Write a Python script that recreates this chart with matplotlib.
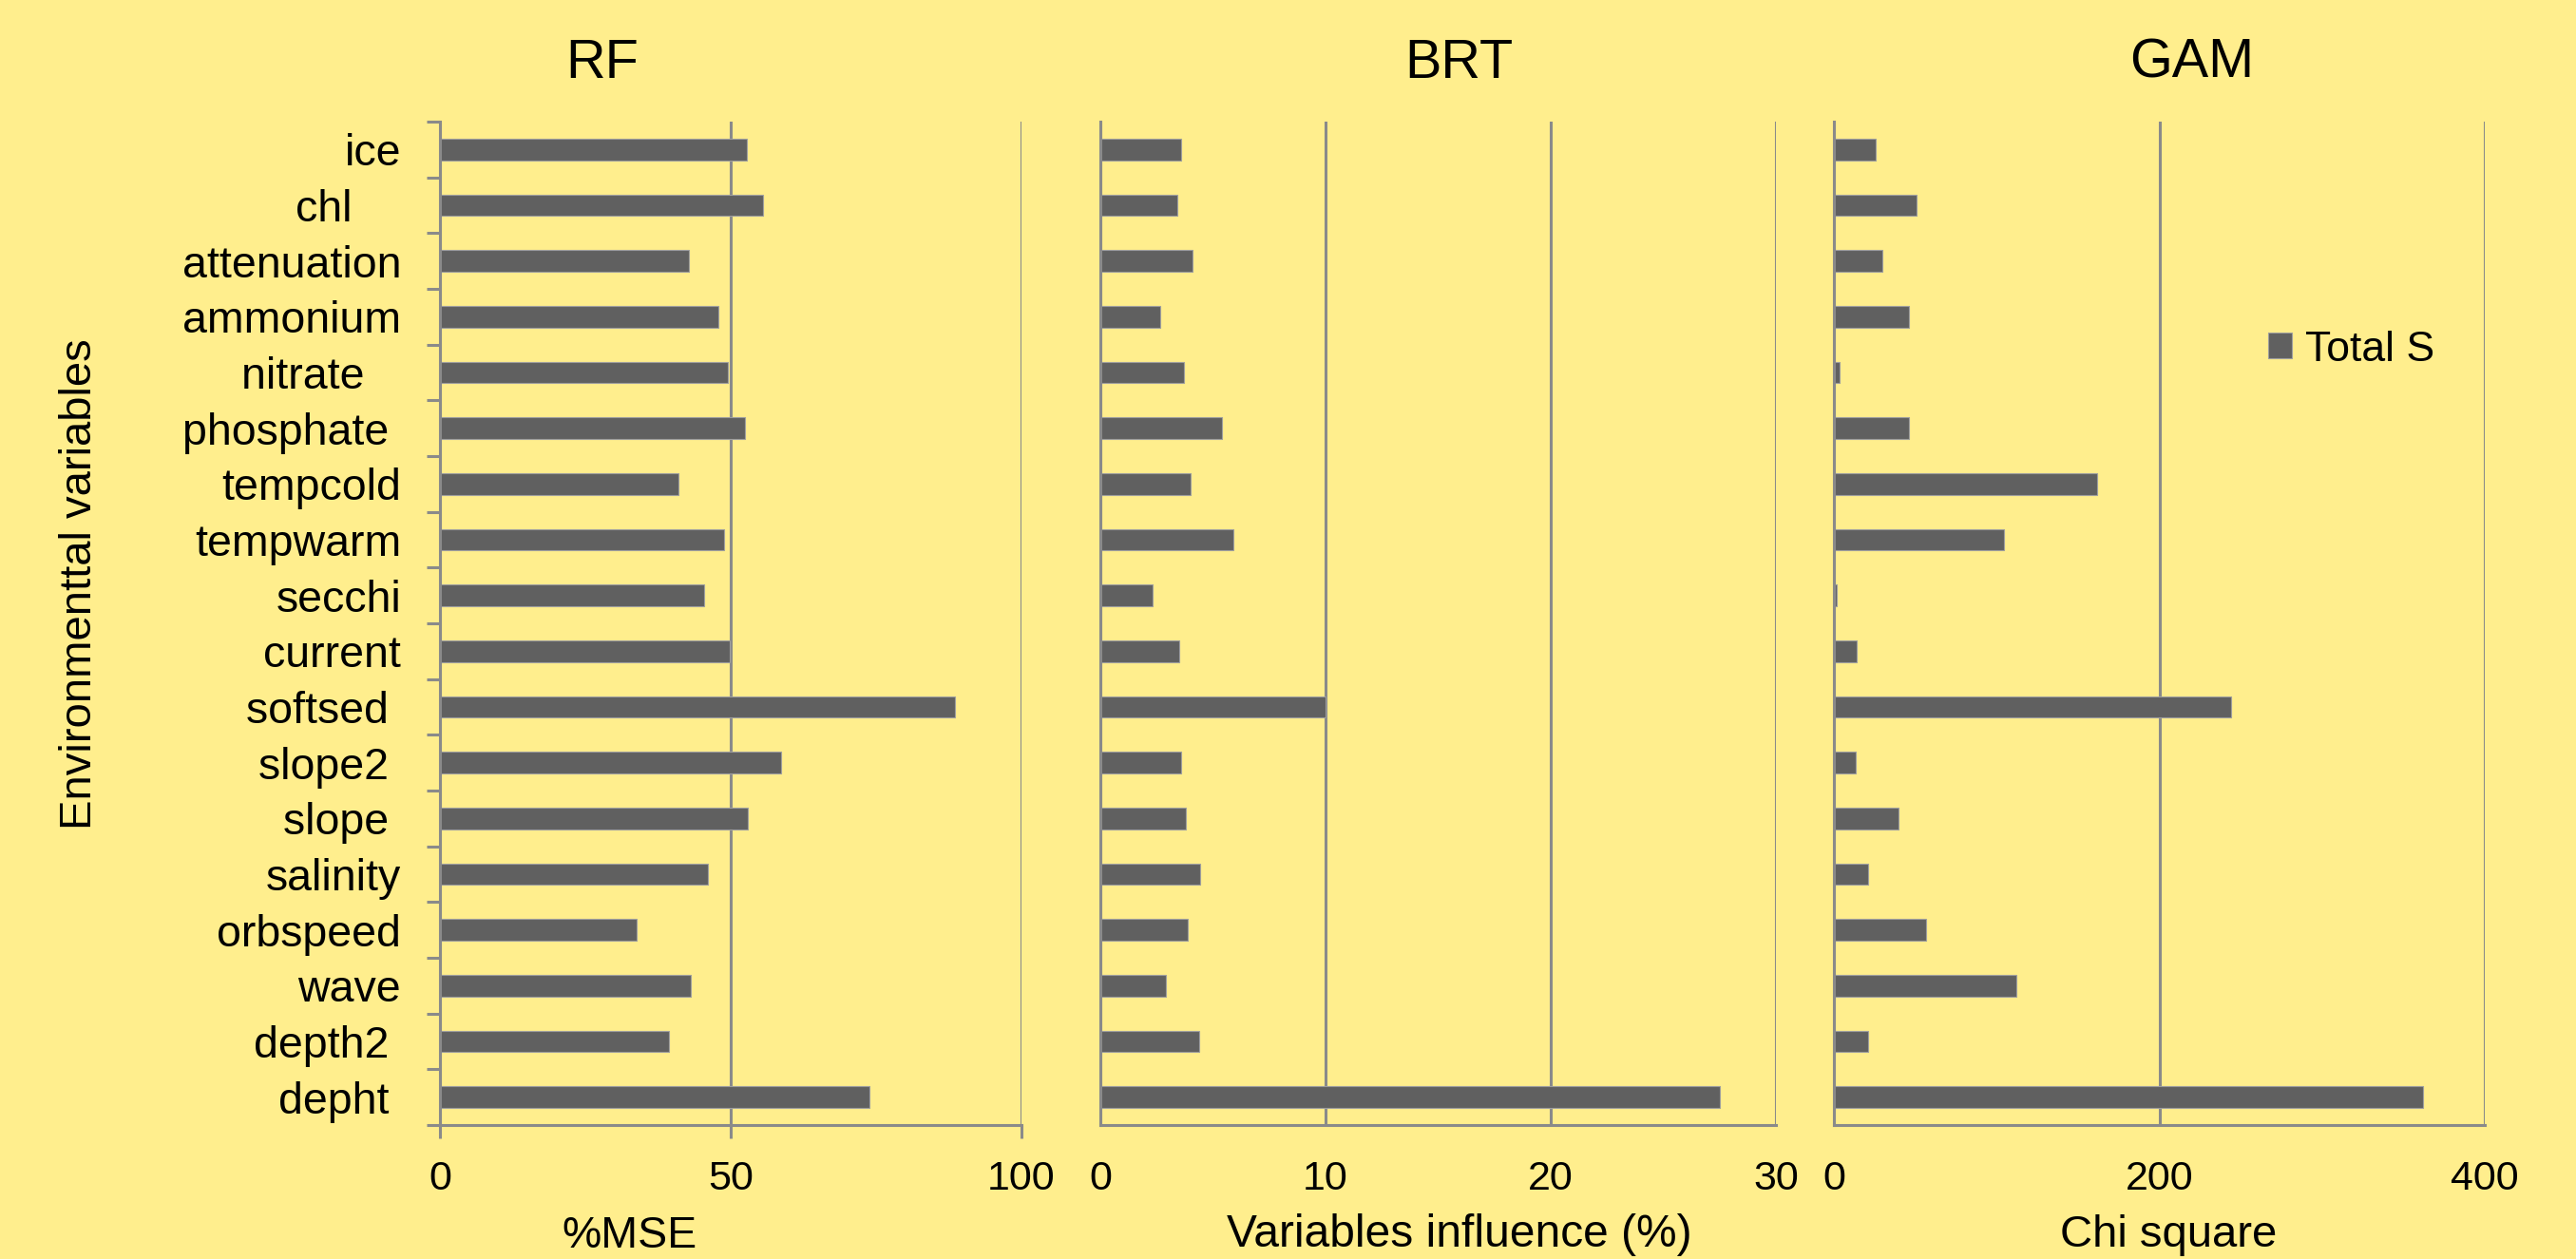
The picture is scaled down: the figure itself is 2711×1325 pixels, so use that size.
import matplotlib
matplotlib.use("Agg")
import matplotlib.pyplot as plt
import numpy as np

plt.rcParams['font.family'] = ['Liberation Sans', 'DejaVu Sans']

categories = ["ice", "chl    ", "attenuation", "ammonium", "nitrate   ", "phosphate ",
              "tempcold", "tempwarm", "secchi", "current", "softsed ", "slope2 ",
              "slope ", "salinity", "orbspeed", "wave", "depth2 ", "depht "]
rf_mse = [52.7, 55.6, 42.8, 47.9, 49.5, 52.5, 41.0, 48.9, 45.5, 49.9, 88.6, 58.6,
          52.9, 46.0, 33.9, 43.1, 39.4, 73.9]
brt_influence = [3.6, 3.4, 4.1, 2.65, 3.7, 5.4, 4.0, 5.9, 2.3, 3.5, 10.0, 3.6,
                 3.8, 4.45, 3.9, 2.9, 4.4, 27.5]
gam_chisq = [25.7, 50.7, 29.8, 45.9, 3.5, 46.2, 162, 104.6, 1.9, 14.1, 244, 13.5,
             39.8, 21.2, 56.5, 112, 20.9, 362]
titles = ["RF", "BRT", "GAM"]
xlabels = ["%MSE", "Variables influence (%)", "Chi square"]
xlims = [100, 30, 400]
xticks = [[0, 50, 100], [0, 10, 20, 30], [0, 200, 400]]
series_label = "Total S"

BG = "#FFEE8D"
BAR = "#606060"
GRID = "#8A8A8A"
W, H = 2711, 1325

fig = plt.figure(figsize=(W / 100, H / 100), dpi=100, facecolor=BG)

bottom = 1 - 1184 / H
height = (1184 - 128) / H
lefts = [463, 1158, 1930]
rights = [1075, 1869, 2615]
data = [rf_mse, brt_influence, gam_chisq]
y = np.arange(len(categories))

axes = []
for i in range(3):
    ax = fig.add_axes([lefts[i] / W, bottom, (rights[i] - lefts[i]) / W, height])
    ax.set_facecolor(BG)
    ax.barh(y, data[i], height=0.39, color=BAR, edgecolor="#9E9E9E",
            linewidth=0.8, zorder=3, label=series_label)
    ax.set_xlim(0, xlims[i])
    ax.set_ylim(len(categories) - 0.5, -0.5)
    ax.set_xticks(xticks[i])
    ax.xaxis.grid(True, color=GRID, linewidth=2.2, zorder=1)
    ax.set_axisbelow(True)
    for s in ["top", "right"]:
        ax.spines[s].set_visible(False)
    for s in ["left", "bottom"]:
        ax.spines[s].set_color(GRID)
        ax.spines[s].set_linewidth(2.2)
        ax.spines[s].set_zorder(4)
    if i == 0:
        ax.set_yticks(y)
        ax.set_yticklabels(categories, fontsize=33.5)
        ax.set_yticks(np.arange(-0.5, len(categories) + 0.5, 1), minor=True)
        ax.tick_params(axis="y", which="major", length=0, pad=29.5)
        ax.tick_params(axis="y", which="minor", length=10, width=2.2, color=GRID,
                       direction="out")
        ax.tick_params(axis="x", which="major", length=10, width=2.2, color=GRID,
                       direction="out", labelsize=31, pad=17)
    else:
        ax.set_yticks([])
        ax.tick_params(axis="x", length=0, labelsize=31, pad=27)
    axes.append(ax)

# titles
title_x = [634, 1535, 2307]
for i in range(3):
    fig.text(title_x[i] / W, 1 - 82 / H, titles[i], fontsize=41.5, ha="center",
             va="baseline")

# x labels
xl_x = [662, 1536, 2282]
xl_base = [1313, 1312, 1312]
xl_size = [33.5, 34.5, 34]
for i in range(3):
    fig.text(xl_x[i] / W, 1 - xl_base[i] / H, xlabels[i], fontsize=xl_size[i],
             ha="center", va="baseline")

# y label
fig.text(84 / W, 1 - 615 / H, "Environmenttal variables", fontsize=34,
         rotation=90, ha="center", va="center")

# legend
axes[2].legend(loc="center left", bbox_to_anchor=(2387 / W, 1 - 368 / H),
               bbox_transform=fig.transFigure, frameon=False, fontsize=32,
               handlelength=0.57, handleheight=0.57, handletextpad=0.3,
               borderpad=0, borderaxespad=0)

fig.savefig("out.png", dpi=100, facecolor=BG)
